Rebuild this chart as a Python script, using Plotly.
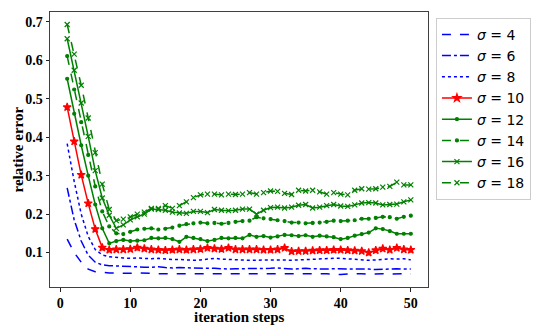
import plotly.graph_objects as go

steps = list(range(1, 51))

sigma4 = [0.135, 0.100, 0.075, 0.057, 0.050, 0.048, 0.047, 0.047, 0.046, 0.046,
          0.047, 0.047, 0.046, 0.045, 0.045, 0.046, 0.046, 0.045, 0.045, 0.045,
          0.046, 0.046, 0.045, 0.045, 0.045, 0.045, 0.046, 0.045, 0.045, 0.045,
          0.046, 0.045, 0.045, 0.045, 0.046, 0.045, 0.045, 0.045, 0.044, 0.043,
          0.044, 0.045, 0.045, 0.044, 0.045, 0.045, 0.044, 0.045, 0.045, 0.045]
sigma6 = [0.268, 0.185, 0.130, 0.093, 0.075, 0.068, 0.066, 0.065, 0.064, 0.063,
          0.063, 0.062, 0.062, 0.063, 0.061, 0.060, 0.061, 0.060, 0.060, 0.059,
          0.059, 0.059, 0.058, 0.057, 0.058, 0.058, 0.058, 0.058, 0.058, 0.059,
          0.060, 0.058, 0.057, 0.058, 0.059, 0.058, 0.057, 0.057, 0.058, 0.058,
          0.058, 0.057, 0.058, 0.057, 0.056, 0.057, 0.057, 0.058, 0.057, 0.057]
sigma8 = [0.383, 0.285, 0.200, 0.142, 0.108, 0.094, 0.089, 0.087, 0.086, 0.085,
          0.086, 0.085, 0.084, 0.085, 0.083, 0.082, 0.082, 0.081, 0.080, 0.081,
          0.083, 0.085, 0.083, 0.082, 0.081, 0.080, 0.080, 0.080, 0.081, 0.081,
          0.081, 0.080, 0.080, 0.081, 0.082, 0.082, 0.083, 0.085, 0.085, 0.085,
          0.084, 0.083, 0.081, 0.080, 0.081, 0.083, 0.084, 0.083, 0.084, 0.081]
sigma10 = [0.478, 0.389, 0.302, 0.228, 0.161, 0.113, 0.107, 0.108, 0.108, 0.109,
           0.113, 0.110, 0.108, 0.107, 0.106, 0.107, 0.108, 0.107, 0.108, 0.109,
           0.112, 0.110, 0.109, 0.112, 0.108, 0.108, 0.108, 0.108, 0.107, 0.107,
           0.108, 0.112, 0.103, 0.104, 0.104, 0.105, 0.106, 0.106, 0.107, 0.107,
           0.106, 0.105, 0.104, 0.100, 0.106, 0.110, 0.107, 0.112, 0.108, 0.107]
sigma12 = [0.552, 0.461, 0.379, 0.300, 0.225, 0.163, 0.124, 0.130, 0.133, 0.130,
           0.131, 0.132, 0.138, 0.137, 0.138, 0.135, 0.128, 0.141, 0.138, 0.135,
           0.130, 0.133, 0.138, 0.137, 0.138, 0.137, 0.146, 0.141, 0.143, 0.139,
           0.142, 0.146, 0.145, 0.143, 0.145, 0.141, 0.144, 0.142, 0.140, 0.135,
           0.138, 0.144, 0.148, 0.152, 0.163, 0.161, 0.156, 0.149, 0.149, 0.149]
sigma14 = [0.611, 0.524, 0.439, 0.354, 0.272, 0.207, 0.168, 0.150, 0.148, 0.154,
           0.160, 0.162, 0.163, 0.160, 0.162, 0.165, 0.170, 0.174, 0.176, 0.178,
           0.176, 0.177, 0.175, 0.177, 0.180, 0.182, 0.183, 0.192, 0.189, 0.187,
           0.184, 0.182, 0.178, 0.178, 0.176, 0.177, 0.178, 0.180, 0.183, 0.182,
           0.183, 0.184, 0.188, 0.188, 0.190, 0.193, 0.192, 0.188, 0.193, 0.196]
sigma16 = [0.656, 0.574, 0.489, 0.402, 0.313, 0.242, 0.197, 0.163, 0.172, 0.185,
           0.193, 0.200, 0.213, 0.212, 0.210, 0.205, 0.203, 0.202, 0.207, 0.207,
           0.204, 0.212, 0.210, 0.209, 0.210, 0.213, 0.213, 0.200, 0.210, 0.217,
           0.218, 0.216, 0.218, 0.223, 0.225, 0.216, 0.218, 0.222, 0.225, 0.221,
           0.220, 0.224, 0.229, 0.230, 0.229, 0.224, 0.225, 0.226, 0.232, 0.237]
sigma18 = [0.693, 0.616, 0.535, 0.450, 0.360, 0.278, 0.212, 0.183, 0.187, 0.193,
           0.200, 0.205, 0.215, 0.215, 0.222, 0.215, 0.222, 0.232, 0.243, 0.250,
           0.252, 0.252, 0.250, 0.252, 0.251, 0.252, 0.256, 0.252, 0.256, 0.260,
           0.259, 0.254, 0.251, 0.262, 0.260, 0.262, 0.258, 0.252, 0.256, 0.252,
           0.250, 0.262, 0.266, 0.265, 0.266, 0.270, 0.272, 0.283, 0.276, 0.276]

x_ticks = [0, 10, 20, 30, 40, 50]
y_ticks = [0.1, 0.2, 0.3, 0.4, 0.5, 0.6, 0.7]

BLUE, RED, GREEN = "#0000ff", "#ff0000", "#008000"

series = [
    ("<i>σ</i> = 4", sigma4, BLUE, "dash", None),
    ("<i>σ</i> = 6", sigma6, BLUE, "dashdot", None),
    ("<i>σ</i> = 8", sigma8, BLUE, "dot", None),
    ("<i>σ</i> = 10", sigma10, RED, "solid", ("star", 6)),
    ("<i>σ</i> = 12", sigma12, GREEN, "solid", ("circle", 3)),
    ("<i>σ</i> = 14", sigma14, GREEN, "dash", ("circle", 3)),
    ("<i>σ</i> = 16", sigma16, GREEN, "solid", ("x-thin", 5)),
    ("<i>σ</i> = 18", sigma18, GREEN, "dash", ("x-thin", 5)),
]

fig = go.Figure()
for name, vals, color, dash, mk in series:
    if mk is None:
        fig.add_trace(go.Scatter(x=steps, y=vals, mode="lines", name=name,
                                 line=dict(color=color, width=1.5, dash=dash)))
    else:
        sym, size = mk
        fig.add_trace(go.Scatter(x=steps, y=vals, mode="lines+markers", name=name,
                                 line=dict(color=color, width=1.5, dash=dash),
                                 marker=dict(symbol=sym, size=size, color=color,
                                             line=dict(color=color, width=1.2))))

title_font = dict(family="Liberation Serif", size=15, color="black", weight="bold")

axis_common = dict(showline=True, linecolor="#404040", linewidth=1, mirror=True,
                   ticks="outside", ticklen=3.5, tickwidth=1, tickcolor="#202020",
                   showgrid=False, zeroline=False, automargin=False,
                   tickfont=dict(family="Liberation Serif", size=14, color="black", weight="bold"))

fig.update_layout(
    width=550, height=327,
    margin=dict(l=50, r=122, t=12, b=40, autoexpand=False),
    plot_bgcolor="white", paper_bgcolor="white",
    xaxis=dict(range=[-1.45, 52.45], tickvals=x_ticks, **axis_common),
    yaxis=dict(range=[0.0105, 0.7255], tickvals=y_ticks, tickformat=".1f", **axis_common),
    legend=dict(x=1.021, y=0.979, xanchor="left", yanchor="top",
                bordercolor="#cccccc", borderwidth=1, bgcolor="white",
                font=dict(family="DejaVu Sans", size=14, color="black"),
                tracegroupgap=0),
    showlegend=True,
    annotations=[
        dict(text="iteration steps", xref="paper", yref="paper", x=0.5, y=0,
             xanchor="center", yanchor="middle", yshift=-29.5, showarrow=False,
             font=title_font),
        dict(text="relative error", xref="paper", yref="paper", x=0, y=0.5,
             xanchor="center", yanchor="middle", xshift=-33, textangle=-90,
             showarrow=False, font=title_font),
    ],
)

fig.write_html("out.html", config={"displayModeBar": False},
               post_script="document.body.style.margin='0';document.body.style.overflow='hidden';")
